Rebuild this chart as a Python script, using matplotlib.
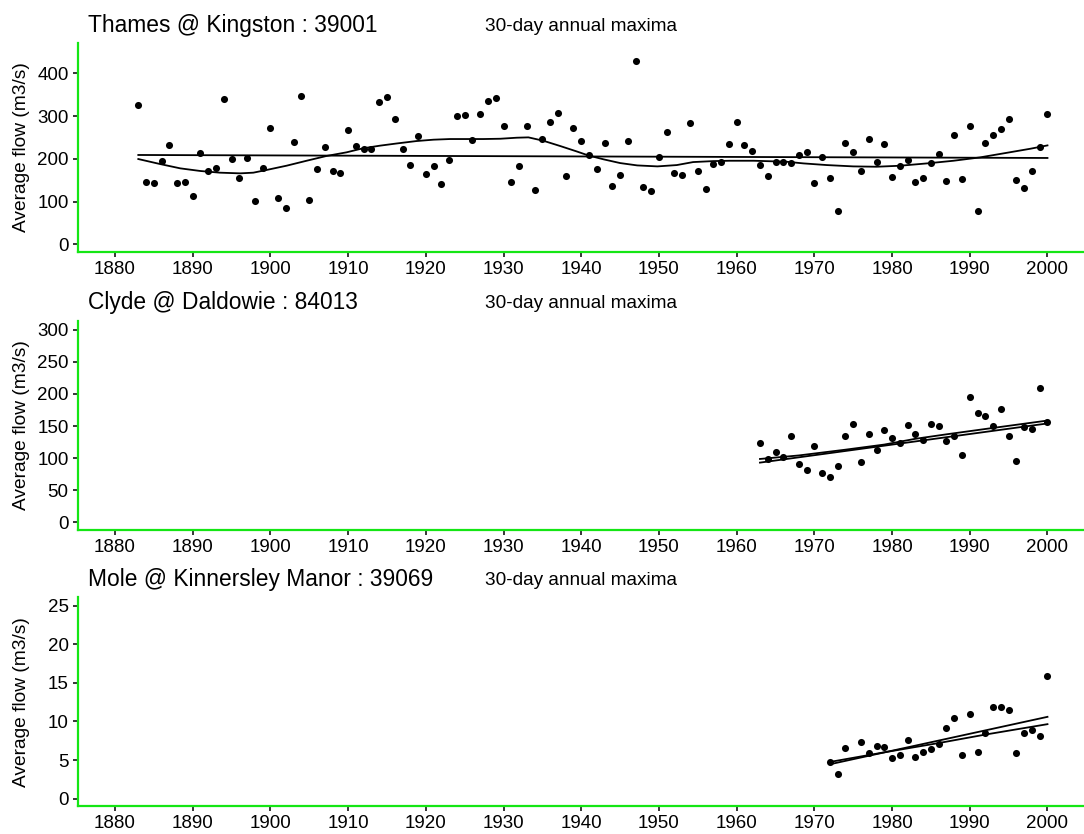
import numpy as np
import matplotlib.pyplot as plt
from matplotlib.transforms import blended_transform_factory

plt.rcParams['font.family'] = ['Liberation Sans', 'DejaVu Sans']

# ---------------------------------------------------------------- data
thames_years = list(range(1883, 2001))
thames_flow = [
    326, 146, 143, 196, 232, 143, 146, 113, 214, 172,
    178, 340, 200, 154, 202, 101, 179, 272, 109, 86,
    239, 347, 104, 176, 228, 172, 167, 267, 230, 224,
    224, 333, 345, 293, 223, 186, 253, 164, 183, 141,
    197, 300, 302, 244, 306, 335, 342, 277, 146, 183,
    277, 127, 246, 286, 307, 160, 272, 242, 209, 176,
    237, 136, 162, 242, 429, 134, 125, 204, 263, 167,
    162, 284, 172, 129, 188, 192, 235, 286, 232, 218,
    186, 160, 192, 192, 190, 209, 216, 143, 204, 155,
    78, 237, 216, 172, 246, 192, 235, 157, 183, 197,
    146, 155, 190, 211, 148, 256, 153, 277, 78, 237,
    256, 270, 293, 150, 132, 172, 228, 305,
]
thames_trend_years = [1883, 2000]
thames_trend = [209, 202]
thames_smooth_years = [
    1883.0, 1885.8, 1888.4, 1891.0, 1893.5, 1896.1, 1897.8, 1899.5, 1902.1,
    1904.7, 1907.2, 1909.8, 1911.9, 1914.1, 1916.2, 1918.8, 1921.0, 1923.1,
    1925.3, 1927.4, 1929.6, 1931.7, 1933.2, 1935.1, 1937.3, 1939.4, 1940.9,
    1942.9, 1945.0, 1947.2, 1949.8, 1952.3, 1954.4, 1957.0, 1959.1, 1962.2,
    1966.4, 1968.6, 1971.6, 1975.0, 1978.0, 1981.0, 1984.5, 1987.9, 1991.3,
    1994.8, 1997.8, 2000.0,
]
thames_smooth = [
    199.5, 187.8, 177.7, 171.5, 167.6, 166.0, 167.6, 173.9, 184.0,
    195.7, 206.6, 215.2, 224.6, 230.8, 235.8, 241.6, 244.8, 246.3,
    246.3, 246.3, 247.0, 249.4, 250.2, 242.4, 229.9, 217.4, 208.0,
    198.7, 190.1, 184.6, 182.3, 185.4, 192.4, 194.7, 195.5, 195.5,
    193.2, 189.3, 185.4, 182.3, 181.5, 183.8, 189.3, 195.5, 203.3,
    214.2, 223.6, 231.4,
]

clyde_years = list(range(1963, 2001))
clyde_flow = [
    123, 99, 110, 102, 134, 90, 82, 118, 76, 71,
    88, 134, 153, 93, 137, 112, 143, 132, 124, 151,
    137, 128, 153, 150, 126, 134, 105, 195, 170, 165,
    150, 176, 134, 96, 148, 146, 209, 157,
]
clyde_trend_years = [1963, 2000]
clyde_trend = [92.8, 154]
clyde_smooth_years = [1963, 1968, 1974, 1979, 1983, 1987, 1993, 2000]
clyde_smooth = [98.5, 104, 113, 121, 130, 137, 147, 158.5]

mole_years = [1972, 1973, 1974, 1976, 1977, 1978, 1979, 1980, 1981, 1982,
              1983, 1984, 1985, 1986, 1987, 1988, 1989, 1990, 1991, 1992,
              1993, 1994, 1995, 1996, 1997, 1998, 1999, 2000]
mole_flow = [4.75, 3.2, 6.57, 7.35, 5.92, 6.83, 6.7, 5.27, 5.66, 7.6,
             5.4, 6.05, 6.44, 7.09, 9.17, 10.47, 5.66, 10.99, 6.05, 8.52,
             11.9, 11.9, 11.5, 5.92, 8.52, 8.9, 8.13, 15.9]
mole_trend_years = [1972, 2000]
mole_trend = [4.45, 10.6]
mole_smooth_years = [1972, 1979, 1986, 1992, 2000]
mole_smooth = [4.75, 6.0, 7.2, 8.3, 9.65]

titles = ["Thames @ Kingston : 39001", "Clyde @ Daldowie : 84013",
          "Mole @ Kinnersley Manor : 39069"]
subtitle = "30-day annual maxima"
ylabel = "Average flow (m3/s)"
xticks = list(range(1880, 2001, 10))

panels = [
    (thames_years, thames_flow, thames_trend_years, thames_trend,
     thames_smooth_years, thames_smooth, (-18, 471), range(0, 401, 100)),
    (clyde_years, clyde_flow, clyde_trend_years, clyde_trend,
     clyde_smooth_years, clyde_smooth, (-12, 314.5), range(0, 301, 50)),
    (mole_years, mole_flow, mole_trend_years, mole_trend,
     mole_smooth_years, mole_smooth, (-1.0, 26.1), range(0, 26, 5)),
]

# ---------------------------------------------------------------- figure
W, H = 1084, 834
fig = plt.figure(figsize=(W / 100, H / 100), dpi=100)

green = '#14e614'
ax_left = 77.7
ax_tops = [43, 320.7, 597.3]
ax_h = 209
title_base = [31.7, 309.4, 586.0]

for i, (yrs, flow, tyrs, trend, syrs, smooth, ylim, yt) in enumerate(panels):
    top = ax_tops[i]
    ax = fig.add_axes([ax_left / W, 1 - (top + ax_h) / H,
                       1 - ax_left / W, ax_h / H])
    ax.scatter(yrs, flow, s=26, color='black', zorder=3, linewidths=0)
    ax.plot(tyrs, trend, color='black', lw=1.3)
    ax.plot(syrs, smooth, color='black', lw=1.3)

    ax.set_xlim(1875.2, 2004.7)
    ax.set_ylim(*ylim)
    ax.set_xticks(xticks)
    ax.set_yticks(list(yt))
    ax.tick_params(labelsize=13.5, length=3.5, width=1.1, color='black',
                   pad=3)
    for s in ['top', 'right']:
        ax.spines[s].set_visible(False)
    for s in ['left', 'bottom']:
        ax.spines[s].set_color(green)
        ax.spines[s].set_linewidth(1.6)
    ax.set_ylabel(ylabel, fontsize=13.8, va='center')
    # same label column in every panel
    tr = blended_transform_factory(fig.transFigure, ax.transAxes)
    ax.yaxis.set_label_coords(22 / W, 0.5, transform=tr)

    fig.text(88 / W, 1 - title_base[i] / H, titles[i], fontsize=16.4,
             va='baseline', ha='left')
    fig.text(485 / W, 1 - (title_base[i] - 1) / H, subtitle, fontsize=13.7,
             va='baseline', ha='left')

fig.savefig('out.png', dpi=100)
